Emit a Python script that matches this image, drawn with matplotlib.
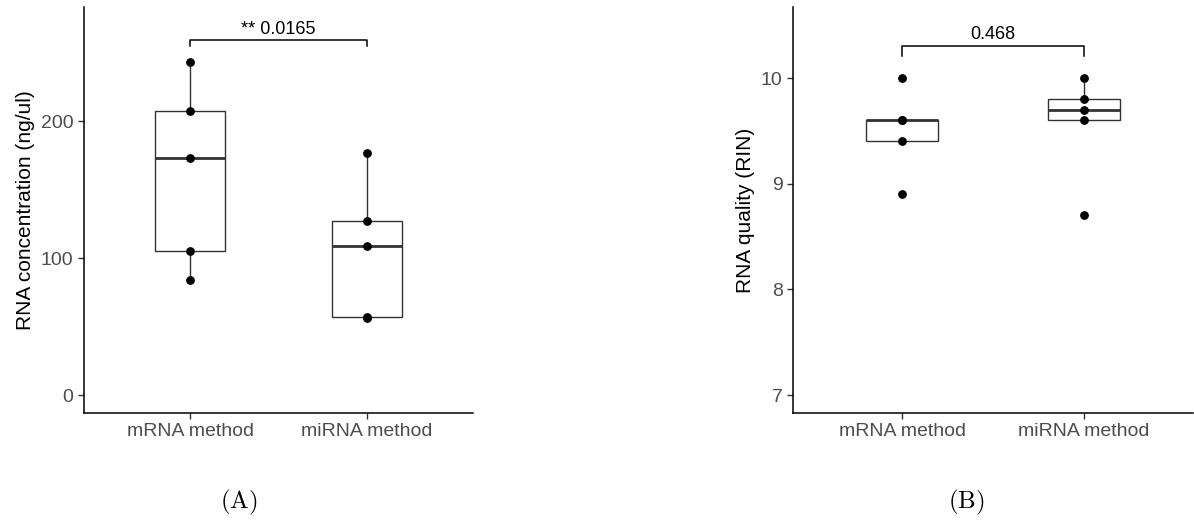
import numpy as np
import matplotlib.pyplot as plt

plt.rcParams['font.family'] = ['Liberation Sans', 'DejaVu Sans']
plt.rcParams['mathtext.fontset'] = 'cm'

groups = ['mRNA method', 'miRNA method']

# panel A: RNA concentration (ng/ul)
conc_mrna = [243, 207, 173, 105, 84]
conc_mirna = [177, 127, 109, 57, 56]
conc_p = '** 0.0165'

# panel B: RNA quality (RIN)
rin_mrna = [10.0, 9.6, 9.6, 9.4, 8.9]
rin_mirna = [10.0, 9.8, 9.7, 9.6, 8.7]
rin_p = '0.468'

fig = plt.figure(figsize=(11.94, 5.2), dpi=100)
axA = fig.add_axes([84/1194, 107/520, (473-84)/1194, 406/520])
axB = fig.add_axes([793/1194, 107/520, (1193-793)/1194, 406/520])

box_col = '#333333'


def panel(ax, data, ylabel, yticks, ylim, ptext, ybar, dtick):
    pos = [1, 2]
    ax.boxplot(data, positions=pos, widths=0.4, whis=1.5, showfliers=False,
               showcaps=False, patch_artist=True,
               boxprops=dict(facecolor='white', edgecolor=box_col, linewidth=1.0),
               whiskerprops=dict(color=box_col, linewidth=1.0),
               medianprops=dict(color=box_col, linewidth=2.0))
    for p, vals in zip(pos, data):
        ax.scatter([p] * len(vals), vals, s=28, color='black', zorder=3)
    ax.set_xlim(0.4, 2.6)
    ax.set_ylim(*ylim)
    ax.set_xticks(pos)
    ax.set_xticklabels(groups)
    ax.set_yticks(yticks)
    ax.set_ylabel(ylabel, fontsize=15, color='black')
    for s in ['top', 'right']:
        ax.spines[s].set_visible(False)
    for s in ['left', 'bottom']:
        ax.spines[s].set_linewidth(1.1)
    ax.tick_params(labelsize=14, labelcolor='#4d4d4d', length=4, width=1.0,
                   color='#333333')
    # significance bracket
    ax.plot([1, 1, 2, 2], [ybar - dtick, ybar, ybar, ybar - dtick],
            color='black', linewidth=1.1, clip_on=False)
    ax.text(1.5, ybar + dtick * 0.4, ptext, ha='center', va='bottom',
            fontsize=13, color='black')


panel(axA, [conc_mrna, conc_mirna], 'RNA concentration (ng/ul)',
      [0, 100, 200], (-13.1, 283.2), conc_p, 259, 4)
panel(axB, [rin_mrna, rin_mirna], 'RNA quality (RIN)',
      [7, 8, 9, 10], (6.83, 10.673), rin_p, 10.30, 0.09)

fig.text(239/1194, 1 - 502/520, r'$\mathrm{(A)}$', ha='center', va='center',
         fontsize=18)
fig.text(966/1194, 1 - 502/520, r'$\mathrm{(B)}$', ha='center', va='center',
         fontsize=18)

fig.savefig('out.png', dpi=100)
